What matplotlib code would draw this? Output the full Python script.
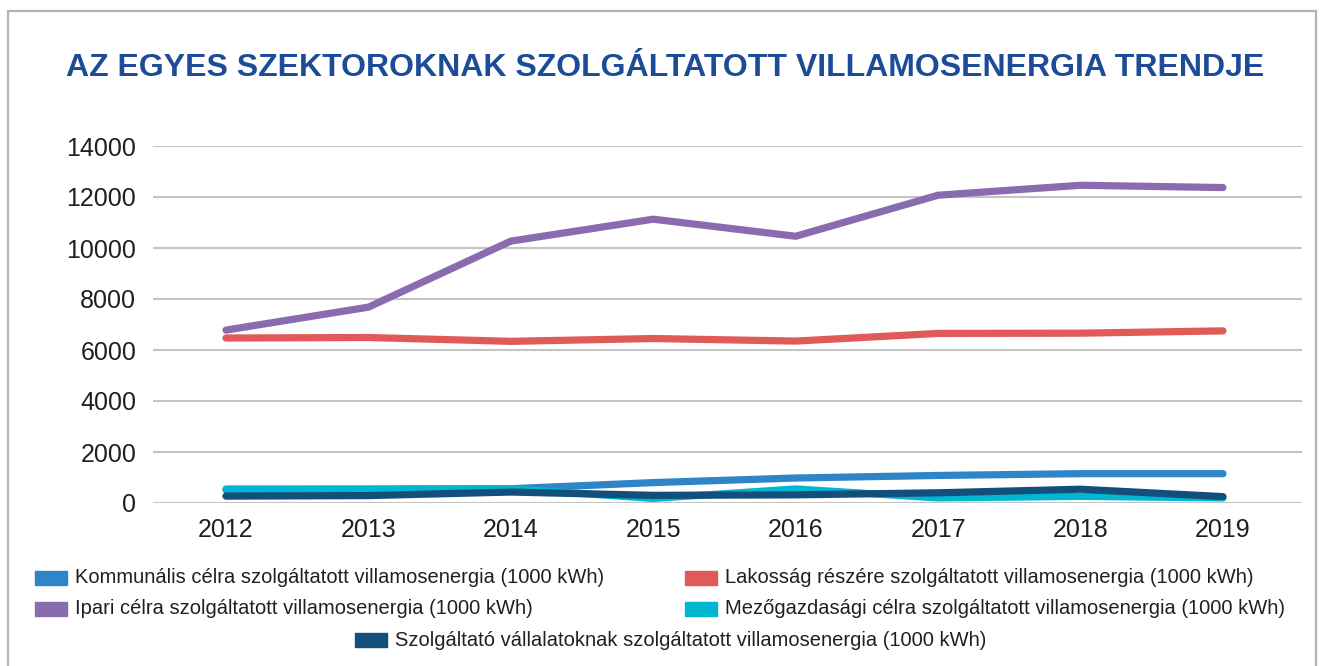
import matplotlib
matplotlib.use("Agg")
import matplotlib.pyplot as plt
from matplotlib.patches import Rectangle

years = ["2012", "2013", "2014", "2015", "2016", "2017", "2018", "2019"]

kommunalis = [520, 530, 560, 800, 980, 1080, 1150, 1150]
lakossag = [6470, 6490, 6340, 6450, 6350, 6650, 6660, 6750]
ipari = [6780, 7680, 10270, 11130, 10460, 12070, 12460, 12370]
mezogazdasagi = [550, 550, 560, 180, 550, 200, 260, 200]
szolgaltato = [270, 290, 430, 300, 320, 400, 540, 250]

names = [
    "Kommunális célra szolgáltatott villamosenergia (1000 kWh)",
    "Lakosság részére szolgáltatott villamosenergia (1000 kWh)",
    "Ipari célra szolgáltatott villamosenergia (1000 kWh)",
    "Mezőgazdasági célra szolgáltatott villamosenergia (1000 kWh)",
    "Szolgáltató vállalatoknak szolgáltatott villamosenergia (1000 kWh)",
]
series = [kommunalis, lakossag, ipari, mezogazdasagi, szolgaltato]
colors = ["#2e86c8", "#e05a57", "#8a6bb0", "#00b6d0", "#124f7a"]

plt.rcParams['font.family'] = ['Liberation Sans', 'DejaVu Sans']

fig = plt.figure(figsize=(13.22, 6.66), dpi=100)

# grey frame around the whole chart
fig.add_artist(Rectangle((8 / 1322, -0.1), 1308 / 1322, 1.1 - 11 / 666,
                         transform=fig.transFigure, fill=False,
                         edgecolor="#b4b4b8", linewidth=1.6))

fig.text(0.503, 1 - 68 / 666, "AZ EGYES SZEKTOROKNAK SZOLGÁLTATOTT VILLAMOSENERGIA TRENDJE",
         ha="center", va="center", fontsize=23, fontweight="bold", color="#1c4c98")

ax = fig.add_axes([153 / 1322, 163 / 666, 1149 / 1322, 357 / 666])
x = list(range(len(years)))
for vals, c, n in zip(series, colors, names):
    ax.plot(x, vals, color=c, linewidth=5.2, solid_capstyle="round", label=n)

ax.set_xlim(-0.5125, 7.555)
ax.set_ylim(0, 14000)
ax.set_yticks(range(0, 14001, 2000))
ax.set_xticks(x)
ax.set_xticklabels(years)
ax.grid(axis="y", color="#c4c4c4", linewidth=1.5)
ax.set_axisbelow(True)
for s in ax.spines.values():
    s.set_visible(False)
ax.tick_params(axis="both", length=0, labelsize=18, colors="#231f20")
ax.tick_params(axis="y", pad=12)
ax.tick_params(axis="x", pad=11)

# legend, laid out like the original (two columns + one centred row)
leg_pos = [(35, 577.5), (685, 577.5), (35, 609), (685, 609), (355, 640)]
for (px, py), c, n in zip(leg_pos, colors, names):
    fig.add_artist(Rectangle((px / 1322, 1 - (py + 7) / 666), 32 / 1322, 14 / 666,
                             transform=fig.transFigure, color=c))
    fig.text((px + 40) / 1322, 1 - py / 666, n, ha="left", va="center",
             fontsize=14.5, color="#231f20")

fig.savefig("out.png", dpi=100)
